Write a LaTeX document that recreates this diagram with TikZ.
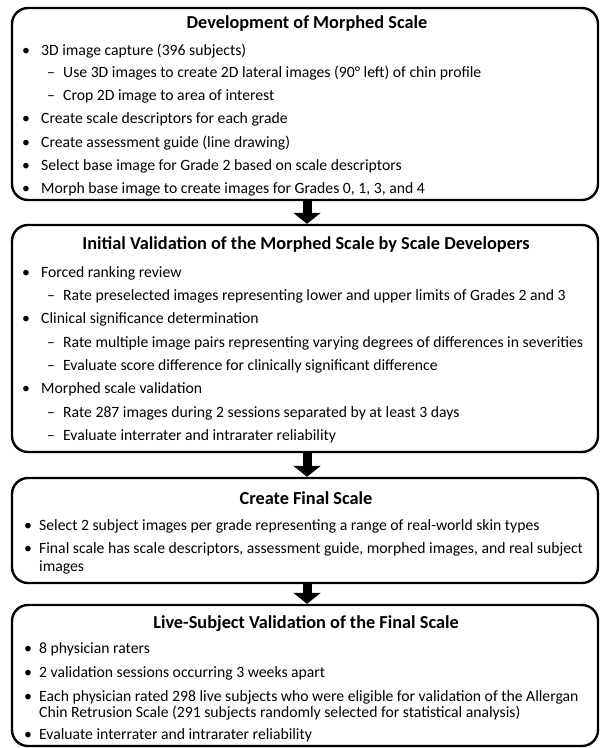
\documentclass[tikz,border=0pt]{standalone}
\usepackage{fontspec}
\setmainfont{Carlito}
\usetikzlibrary{arrows.meta}
\tikzset{
  stage/.style={draw=black, line width=2.4pt, rounded corners=16pt, minimum width=586pt, inner sep=0pt, fill=white},
  ttl/.style={anchor=base, inner sep=0pt, font=\fontsize{18.3}{21}\selectfont\bfseries},
  itm/.style={anchor=base west, inner sep=0pt, font=\fontsize{15.7}{18}\selectfont},
  flow/.style={line width=9pt, -{Triangle[width=27pt,length=11pt]}, black}
}
\newcommand{\bul}{\makebox[20pt][l]{\hspace{1pt}•}}
\newcommand{\bulb}{\makebox[15pt][l]{•}}
\newcommand{\subd}{\makebox[42pt][l]{\hspace{26pt}–}}
\begin{document}
\begin{tikzpicture}[x=1pt,y=-1pt]
\useasboundingbox (0,0) rectangle (601,748);
% boxes
\node[stage, minimum height=192pt] (b1) at (305,104) {};
\node[stage, minimum height=227pt] (b2) at (305,338.5) {};
\node[stage, minimum height=105pt] (b3) at (305,530.5) {};
\node[stage, minimum height=141pt] (b4) at (305,675.5) {};
% arrows
\draw[flow] ([xshift=2pt]b1.south) -- ([xshift=2pt]b2.north);
\draw[flow] ([xshift=2pt]b2.south) -- ([xshift=2pt]b3.north);
\draw[flow] ([xshift=2pt]b3.south) -- ([xshift=2pt]b4.north);
% box 1
\node[ttl] (t1) at (307,28.5) {Development of Morphed Scale};
\node[itm] (a1) at (21,55) {\bul 3D image capture (396 subjects)};
\node[itm] (a2) at (21,77) {\subd Use 3D images to create 2D lateral images (90° left) of chin profile};
\node[itm] (a3) at (21,100) {\subd Crop 2D image to area of interest};
\node[itm] (a4) at (21,123) {\bul Create scale descriptors for each grade};
\node[itm] (a5) at (21,147) {\bul Create assessment guide (line drawing)};
\node[itm] (a6) at (21,170) {\bul Select base image for Grade 2 based on scale descriptors};
\node[itm] (a7) at (21,193) {\bul Morph base image to create images for Grades 0, 1, 3, and 4};
% box 2
\node[ttl] (t2) at (306,249) {Initial Validation of the Morphed Scale by Scale Developers};
\node[itm] (c1) at (21,277) {\bul Forced ranking review};
\node[itm] (c2) at (21,300) {\subd Rate preselected images representing lower and upper limits of Grades 2 and 3};
\node[itm] (c3) at (21,323) {\bul Clinical significance determination};
\node[itm] (c4) at (21,347) {\subd Rate multiple image pairs representing varying degrees of differences in severities};
\node[itm] (c5) at (21,370) {\subd Evaluate score difference for clinically significant difference};
\node[itm] (c6) at (21,393) {\bul Morphed scale validation};
\node[itm] (c7) at (21,417) {\subd Rate 287 images during 2 sessions separated by at least 3 days};
\node[itm] (c8) at (21,440) {\subd Evaluate interrater and intrarater reliability};
% box 3
\node[ttl] (t3) at (306,504) {Create Final Scale};
\node[itm] (d1) at (24,530) {\bulb Select 2 subject images per grade representing a range of real-world skin types};
\node[itm] (d2) at (24,553) {\bulb Final scale has scale descriptors, assessment guide, morphed images, and real subject};
\node[itm] (d3) at (39,571) {images};
% box 4
\node[ttl] (t4) at (306,628) {Live-Subject Validation of the Final Scale};
\node[itm] (e1) at (24,653) {\bulb 8 physician raters};
\node[itm] (e2) at (24,677) {\bulb 2 validation sessions occurring 3 weeks apart};
\node[itm] (e3) at (24,701) {\bulb Each physician rated 298 live subjects who were eligible for validation of the Allergan};
\node[itm] (e4) at (39,717) {Chin Retrusion Scale (291 subjects randomly selected for statistical analysis)};
\node[itm] (e5) at (24,739) {\bulb Evaluate interrater and intrarater reliability};
\end{tikzpicture}
\end{document}
